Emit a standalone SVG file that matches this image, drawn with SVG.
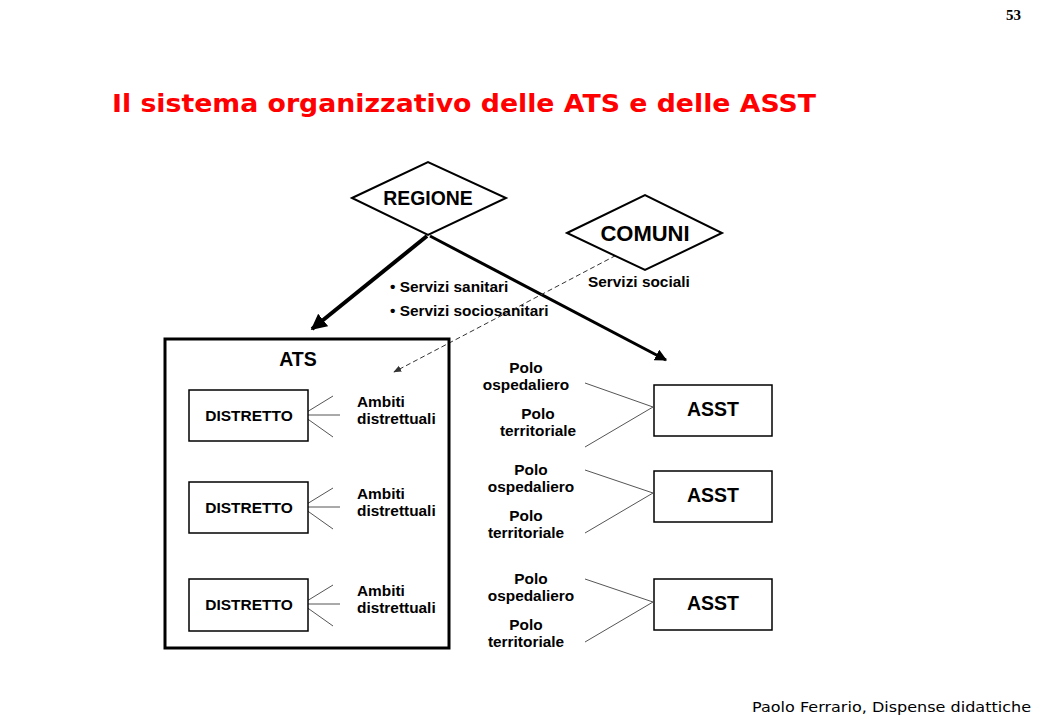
<svg xmlns="http://www.w3.org/2000/svg" width="1040" height="720" viewBox="0 0 1040 720">
<defs>
<style>
.t{font-family:"Liberation Sans",Arial,sans-serif;font-weight:bold;fill:#000}
.s{font-size:15.4px}
.box{fill:#fff;stroke:#000;stroke-width:1.5}
.fan{fill:none;stroke:#555;stroke-width:1}
</style>
<marker id="ah" viewBox="0 0 10 10" refX="9" refY="5" markerWidth="4" markerHeight="4" orient="auto" markerUnits="strokeWidth"><path d="M0,0 L10,5 L0,10 z" fill="#000"/></marker>
<marker id="ahs" viewBox="0 0 10 10" refX="9" refY="5" markerWidth="8" markerHeight="8" orient="auto" markerUnits="strokeWidth"><path d="M0,1 L10,5 L0,9 z" fill="#333"/></marker>
</defs>
<rect width="1040" height="720" fill="#fff"/>
<text x="1021" y="20" text-anchor="end" font-family="Liberation Serif,serif" font-weight="bold" font-size="15">53</text>
<text x="112" y="112" font-family="DejaVu Sans,Verdana,sans-serif" font-weight="bold" font-size="25" fill="#ff0000" textLength="704" lengthAdjust="spacingAndGlyphs">Il sistema organizzativo delle ATS e delle ASST</text>
<text x="1031" y="712" text-anchor="end" font-family="DejaVu Sans,Verdana,sans-serif" font-size="14" fill="#000" textLength="279" lengthAdjust="spacingAndGlyphs">Paolo Ferrario, Dispense didattiche</text>

<g id="connectors">
<line x1="427" y1="236" x2="312" y2="329" stroke="#000" stroke-width="4" marker-end="url(#ah)"/>
<line x1="430" y1="236" x2="666" y2="360" stroke="#000" stroke-width="3" marker-end="url(#ah)"/>
<line x1="630" y1="248" x2="394" y2="372" stroke="#333" stroke-width="1" stroke-dasharray="5,3" marker-end="url(#ahs)"/>
<polyline class="fan" points="333,396 302,415 333,437"/><line class="fan" x1="302" y1="415" x2="340" y2="415"/>
<polyline class="fan" points="333,488 302,507 333,529"/><line class="fan" x1="302" y1="507" x2="340" y2="507"/>
<polyline class="fan" points="333,585 302,604 333,626"/><line class="fan" x1="302" y1="604" x2="340" y2="604"/>
<polyline class="fan" points="585,383 653,407 585,447"/>
<polyline class="fan" points="585,470 653,493 585,533"/>
<polyline class="fan" points="585,579 653,602 585,642"/>
</g>

<g id="regione">
<polygon points="352,198 428,162 506,198 428,235" fill="#fff" stroke="#000" stroke-width="2"/>
<text class="t" x="428" y="205" text-anchor="middle" font-size="19.4">REGIONE</text>
</g>
<g id="comuni">
<polygon points="567,233 645,195 722,233 645,270" fill="#fff" stroke="#000" stroke-width="2"/>
<text class="t" x="645" y="241" text-anchor="middle" font-size="22">COMUNI</text>
</g>
<g id="labels">
<text class="t s" x="390" y="292">• Servizi sanitari</text>
<text class="t s" x="390" y="316">• Servizi sociosanitari</text>
<text class="t s" x="588" y="287">Servizi sociali</text>
</g>

<g id="ats">
<rect x="165" y="339" width="284" height="309" fill="none" stroke="#000" stroke-width="3"/>
<text class="t" x="298" y="366" text-anchor="middle" font-size="19.5">ATS</text>
</g>
<g id="distretto1">
<rect class="box" x="189" y="390" width="119" height="51"/>
<text class="t" x="249" y="421" text-anchor="middle" font-size="15.5">DISTRETTO</text>
</g>
<g id="distretto2">
<rect class="box" x="189" y="482" width="119" height="51"/>
<text class="t" x="249" y="513" text-anchor="middle" font-size="15.5">DISTRETTO</text>
</g>
<g id="distretto3">
<rect class="box" x="189" y="579" width="119" height="52"/>
<text class="t" x="249" y="610" text-anchor="middle" font-size="15.5">DISTRETTO</text>
</g>
<g id="ambiti">
<text class="t s" x="357" y="407">Ambiti</text><text class="t s" x="357" y="424">distrettuali</text>
<text class="t s" x="357" y="499">Ambiti</text><text class="t s" x="357" y="516">distrettuali</text>
<text class="t s" x="357" y="596">Ambiti</text><text class="t s" x="357" y="613">distrettuali</text>
</g>

<g id="asst1">
<rect class="box" x="654" y="385" width="118" height="51"/>
<text class="t" x="713" y="416" text-anchor="middle" font-size="19.5">ASST</text>
</g>
<g id="asst2">
<rect class="box" x="654" y="471" width="118" height="51"/>
<text class="t" x="713" y="502" text-anchor="middle" font-size="19.5">ASST</text>
</g>
<g id="asst3">
<rect class="box" x="654" y="579" width="118" height="51"/>
<text class="t" x="713" y="610" text-anchor="middle" font-size="19.5">ASST</text>
</g>
<g id="poli">
<text class="t s" x="526" y="373" text-anchor="middle">Polo</text>
<text class="t s" x="526" y="390" text-anchor="middle">ospedaliero</text>
<text class="t s" x="538" y="419" text-anchor="middle">Polo</text>
<text class="t s" x="538" y="436" text-anchor="middle">territoriale</text>
<text class="t s" x="531" y="475" text-anchor="middle">Polo</text>
<text class="t s" x="531" y="492" text-anchor="middle">ospedaliero</text>
<text class="t s" x="526" y="521" text-anchor="middle">Polo</text>
<text class="t s" x="526" y="538" text-anchor="middle">territoriale</text>
<text class="t s" x="531" y="584" text-anchor="middle">Polo</text>
<text class="t s" x="531" y="601" text-anchor="middle">ospedaliero</text>
<text class="t s" x="526" y="630" text-anchor="middle">Polo</text>
<text class="t s" x="526" y="647" text-anchor="middle">territoriale</text>
</g>
</svg>
